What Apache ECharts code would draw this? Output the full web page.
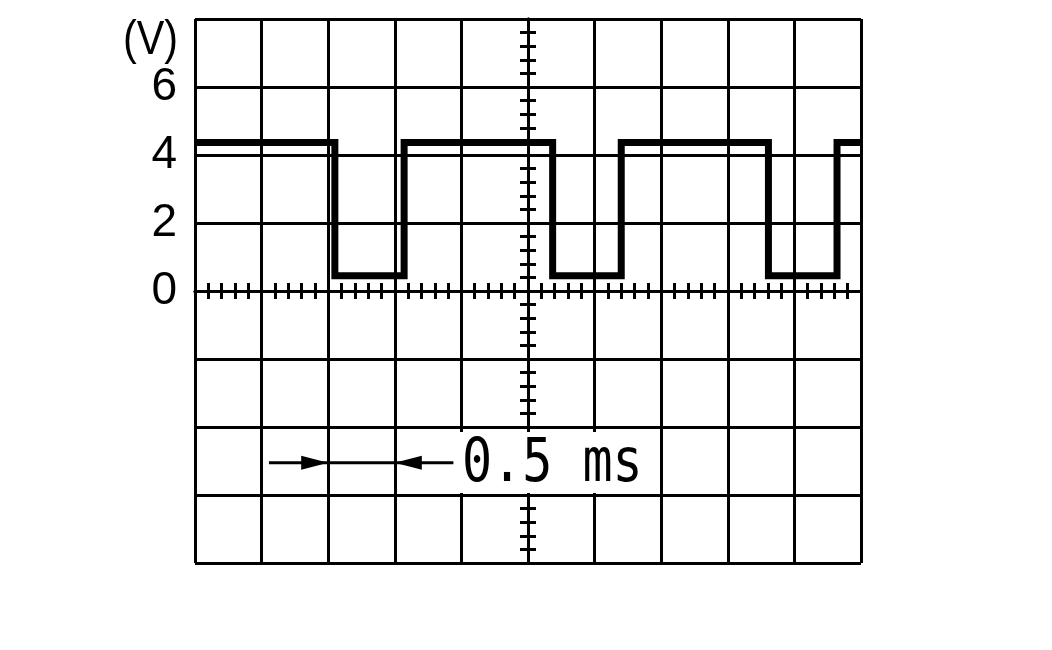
<!DOCTYPE html>
<html>
<head>
<meta charset="utf-8">
<script src="https://cdn.jsdelivr.net/npm/echarts@6/dist/echarts.min.js"></script>
<style>
html, body { margin: 0; padding: 0; background: #fff; }
#scope { width: 1052px; height: 650px; }
</style>
</head>
<body>
<div id="scope"></div>
<script>
// 波形数据：时间 (ms) 与电压 (V)
const timeMs = [0, 1.05, 1.57, 2.685, 3.2, 4.305, 4.82, 5];
const voltage = [4.37, 0.45, 4.37, 0.45, 4.37, 0.45, 4.37, 4.37];
const yTickLabels = ['0', '2', '4', '6'];
// 刻度标尺 (0.5 ms)
const scaleBarMs = [0.555, 1.94];
const scaleArrowMs = [1.0, 1.5];
const scaleBarV = -5.05;
const scaleText = '0.5 ms';
const unitText = '(V)';

const chart = echarts.init(document.getElementById('scope'), null, { renderer: 'canvas' });

const black = '#000';
const gridLine = { show: true, lineStyle: { color: black, width: 3 } };
const hidden = { show: false };

// 中心十字线上的小刻度（两侧各一个轴）
function tickXAxis(inside) {
    return {
        type: 'value', min: 0, max: 5, interval: 0.1, position: 'bottom',
        axisLine: { show: true, onZero: true, onZeroAxisIndex: 0, lineStyle: { color: black, width: 3 } },
        axisTick: { show: true, inside: inside, length: 8, lineStyle: { color: black, width: 3 } },
        axisLabel: hidden, splitLine: hidden
    };
}
function tickYAxis(inside) {
    return {
        type: 'value', min: -8, max: 8, interval: 0.4, position: 'left',
        axisLine: { show: true, onZero: true, onZeroAxisIndex: 1, lineStyle: { color: black, width: 3 } },
        axisTick: { show: true, inside: inside, length: 8, lineStyle: { color: black, width: 3 } },
        axisLabel: hidden, splitLine: hidden
    };
}

const option = {
    backgroundColor: '#fff',
    animation: false,
    grid: { left: 195, top: 19, width: 666, height: 544, containLabel: false },
    xAxis: [
        {
            type: 'value', min: 0, max: 5, interval: 0.5,
            axisLine: { show: false, onZero: false }, axisTick: hidden, axisLabel: hidden,
            splitLine: gridLine
        },
        {
            // 仅用于把纵向刻度放到中心
            type: 'value', min: -2.5, max: 2.5, interval: 0.5,
            axisLine: { show: false, onZero: false }, axisTick: hidden, axisLabel: hidden,
            splitLine: hidden
        },
        tickXAxis(false),
        tickXAxis(true)
    ],
    yAxis: [
        {
            type: 'value', min: -8, max: 8, interval: 2,
            axisLine: { show: false, onZero: false }, axisTick: hidden,
            axisLabel: {
                show: true, margin: 18, color: black, fontSize: 46,
                fontFamily: 'Liberation Sans',
                verticalAlign: 'middle', padding: [8, 0, 0, 0],
                formatter: function (v) {
                    const s = String(v);
                    return yTickLabels.indexOf(s) >= 0 ? s : '';
                }
            },
            splitLine: gridLine
        },
        tickYAxis(false),
        tickYAxis(true)
    ],
    series: [
        {
            type: 'line',
            step: 'end',
            data: timeMs.map((t, i) => [t, voltage[i]]),
            symbol: 'none',
            lineStyle: { color: black, width: 7, join: 'miter', cap: 'butt' },
            z: 5
        },
        {
            type: 'line',
            data: scaleBarMs.map(t => [t, scaleBarV]),
            symbol: 'none',
            lineStyle: { color: black, width: 3 },
            z: 5
        },
        {
            type: 'scatter',
            symbol: 'triangle',
            symbolSize: [14, 27],
            itemStyle: { color: black, opacity: 1 },
            data: [
                { value: [scaleArrowMs[0], scaleBarV], symbolRotate: -90, symbolOffset: [-13.5, 0] },
                { value: [scaleArrowMs[1], scaleBarV], symbolRotate: 90, symbolOffset: [13.5, 0] }
            ],
            z: 5
        }
    ],
    graphic: [
        {
            type: 'text', x: 178, y: 41, scaleX: 0.86, z: 100,
            style: {
                text: unitText, fill: black, fontSize: 48, fontFamily: 'Liberation Sans',
                align: 'right', verticalAlign: 'middle', textAlign: 'right', textVerticalAlign: 'middle'
            }
        },
        {
            type: 'rect', z: 100,
            shape: { x: 457, y: 432, width: 203, height: 61 },
            style: { fill: '#fff' }
        },
        {
            type: 'text', x: 462, y: 465, scaleX: 0.82, z: 101,
            style: {
                text: scaleText, fill: black, fontSize: 61, fontFamily: 'DejaVu Sans Mono',
                align: 'left', verticalAlign: 'middle', textAlign: 'left', textVerticalAlign: 'middle'
            }
        }
    ]
};

chart.setOption(option);
</script>
</body>
</html>
